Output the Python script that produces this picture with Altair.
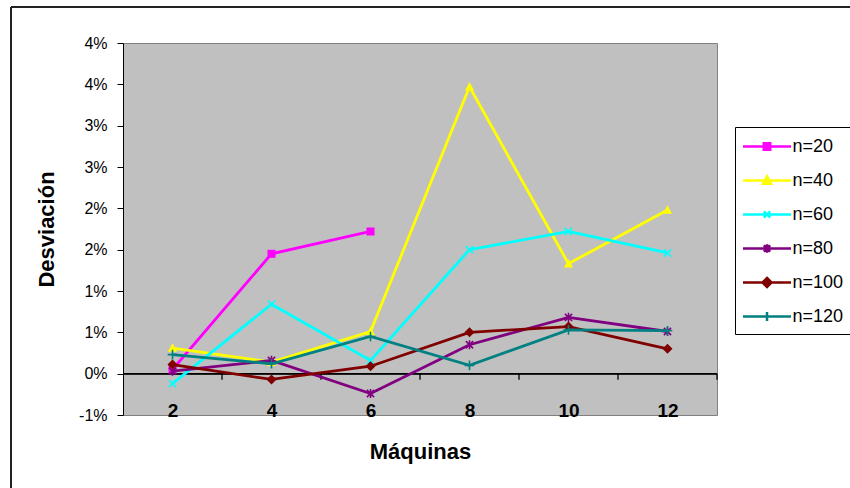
import altair as alt
import pandas as pd

# Número de máquinas (eje X) y series por tamaño de problema
maquinas = [2, 4, 6, 8, 10, 12]
series = ["n=20", "n=40", "n=60", "n=80", "n=100", "n=120"]

# Desviación media en porcentaje
dev_n20 = [0.05, 1.45, 1.72]
dev_n40 = [0.31, 0.14, 0.51, 3.47, 1.33, 1.98]
dev_n60 = [-0.12, 0.84, 0.16, 1.50, 1.72, 1.46]
dev_n80 = [0.03, 0.16, -0.24, 0.35, 0.68, 0.51]
dev_n100 = [0.11, -0.07, 0.09, 0.50, 0.57, 0.30]
dev_n120 = [0.23, 0.12, 0.45, 0.10, 0.53, 0.52]

y_ticks = [-0.5, 0.0, 0.5, 1.0, 1.5, 2.0, 2.5, 3.0, 3.5, 4.0]
cat_bounds = [3, 5, 7, 9, 11, 13]

colors = ["#FF00FF", "#FFFF00", "#00FFFF", "#800080", "#800000", "#008080"]

# marcadores de la serie (rejilla [-1, 1]) y si van rellenos
marker_paths = [
    "M-1,-1H1V1H-1Z",
    "M0,-1.2L1.15,0.95H-1.15Z",
    "M-0.9,-0.9L0.9,0.9M-0.9,0.9L0.9,-0.9",
    "M-0.9,-0.9L0.9,0.9M-0.9,0.9L0.9,-0.9M0,-1.15V1.15",
    "M0,-1.25L1.25,0L0,1.25L-1.25,0Z",
    "M-1.2,0H1.2M0,-1.2V1.2",
]
marker_filled = [True, True, False, False, True, False]

# símbolos de la leyenda: trazo horizontal con el marcador en el centro
key_paths = [
    "M-2.4,0H2.4M-0.32,-0.32H0.32V0.32H-0.32Z",
    "M-2.4,0H2.4M0,-0.42L0.4,0.32H-0.4Z",
    "M-2.4,0H2.4M-0.32,-0.32L0.32,0.32M-0.32,0.32L0.32,-0.32",
    "M-2.4,0H2.4M-0.32,-0.32L0.32,0.32M-0.32,0.32L0.32,-0.32M0,-0.42V0.42",
    "M-2.4,0H2.4M0,-0.45L0.45,0L0,0.45L-0.45,0Z",
    "M-2.4,0H2.4M0,-0.45V0.45",
]

values = [dev_n20, dev_n40, dev_n60, dev_n80, dev_n100, dev_n120]
rows = []
for s, vals in zip(series, values):
    for m, v in zip(maquinas, vals):
        rows.append({"serie": s, "maquinas": m, "dev": v})
df = pd.DataFrame(rows)
bounds_df = pd.DataFrame({"pos": cat_bounds})

FONT = "Liberation Sans"
W, H = 594, 372

xscale = alt.Scale(domain=[1, 13], nice=False, zero=False)
yscale = alt.Scale(domain=[-0.5, 4.0], nice=False, zero=False)

x_axis = alt.Axis(
    values=maquinas, format="d", grid=False, domain=False, ticks=False, tickSize=0,
    labelFont=FONT, labelFontSize=19, labelFontWeight="bold", labelColor="black",
    labelBaseline="alphabetic", labelPadding=1, labelFlush=False,
    title="Máquinas", titleFont=FONT, titleFontSize=22, titleFontWeight="bold",
    titleColor="black", titleX=W / 2, titleY=36, titleBaseline="middle", titleAlign="center",
)
y_axis = alt.Axis(
    values=y_ticks,
    labelExpr="(datum.value < 0 ? '-' : '') + format(abs(datum.value), '.0f') + '%'",
    grid=False, domainColor="black", tickColor="black", tickSize=6,
    labelFont=FONT, labelFontSize=16, labelColor="black", labelPadding=10, labelFlush=False,
    title="Desviación", titleFont=FONT, titleFontSize=22, titleFontWeight="bold",
    titleColor="black", titleX=-77, titleY=H / 2, titleAngle=-90,
    titleBaseline="middle", titleAlign="center",
)

X = alt.X("maquinas:Q", scale=xscale, axis=x_axis)
Y = alt.Y("dev:Q", scale=yscale, axis=y_axis)

base = alt.Chart(df)

# cada serie: línea y marcadores
series_layers = []
for s, c, p, f in zip(series, colors, marker_paths, marker_filled):
    sub = base.transform_filter(alt.datum.serie == s)
    series_layers.append(sub.mark_line(strokeWidth=2.8, color=c).encode(x=X, y=Y))
    mk = dict(shape=p, size=64, color=c, opacity=1)
    if f:
        mk["filled"] = True
    else:
        mk["strokeWidth"] = 1.6
    series_layers.append(sub.mark_point(**mk).encode(x=X, y=Y))

legend = alt.Legend(
    title=None, orient="none", legendX=612, legendY=84,
    strokeColor="black", fillColor="white", padding=8,
    symbolSize=400, symbolStrokeWidth=2.5, symbolOffset=12.5,
    labelFont=FONT, labelFontSize=18, labelColor="black", labelOffset=14,
    rowPadding=13,
)
key = base.transform_filter("false").mark_point(filled=True, opacity=1).encode(
    x=X, y=Y,
    fill=alt.Fill("serie:N", scale=alt.Scale(domain=series, range=colors), legend=legend),
    stroke=alt.Stroke("serie:N", scale=alt.Scale(domain=series, range=colors), legend=legend),
    shape=alt.Shape("serie:N", scale=alt.Scale(domain=series, range=key_paths), legend=legend),
)

# línea del cero con las marcas entre categorías
zero_line = alt.Chart(bounds_df).mark_rule(color="black", strokeWidth=1.3).encode(
    y=alt.YDatum(0, scale=yscale, axis=y_axis),
)
cat_ticks = alt.Chart(bounds_df).mark_rule(color="black", strokeWidth=1.3, y2Offset=6).encode(
    x=alt.X("pos:Q", scale=xscale, axis=x_axis),
    y=alt.YDatum(0, scale=yscale, axis=y_axis),
    y2=alt.Y2Datum(0),
)

# marco exterior del gráfico
frame_left = alt.Chart(bounds_df).mark_rule(color="#222222", strokeWidth=2).encode(
    x=alt.value(-112), y=alt.value(-36), y2=alt.value(450),
)
frame_top = alt.Chart(bounds_df).mark_rule(color="#222222", strokeWidth=2).encode(
    y=alt.value(-36), x=alt.value(-112), x2=alt.value(735),
)

chart = alt.layer(
    frame_left, frame_top, zero_line, cat_ticks, *series_layers, key
).properties(
    width=W, height=H,
    background="white",
    padding={"left": 123, "top": 43, "right": 133, "bottom": 73},
    autosize=alt.AutoSizeParams(type="none"),
).configure_view(
    fill="#C0C0C0", stroke="#808080", strokeWidth=1,
)

chart.save("out.html", embed_options={"renderer": "svg", "actions": False})
